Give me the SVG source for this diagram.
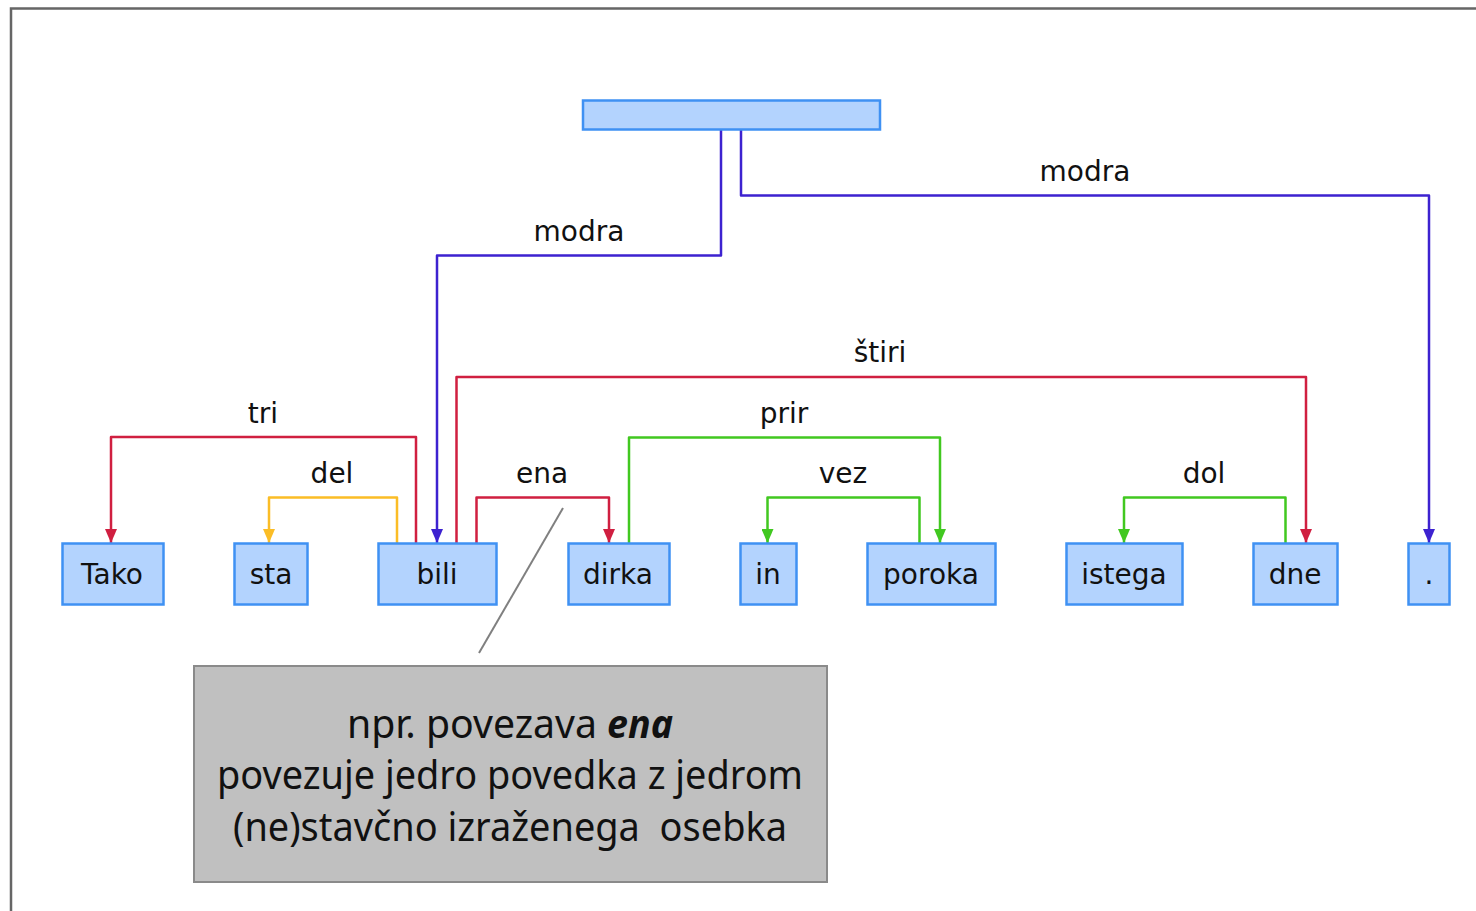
<svg xmlns="http://www.w3.org/2000/svg" width="1476" height="911" viewBox="0 0 1476 911">
  <defs>
    <marker id="ah-blue" viewBox="0 0 12 14" refX="6" refY="14" markerWidth="12" markerHeight="14" markerUnits="userSpaceOnUse">
      <path d="M0,0 L12,0 L6,14 Z" fill="#3d22d0"/>
    </marker>
    <marker id="ah-red" viewBox="0 0 12 14" refX="6" refY="14" markerWidth="12" markerHeight="14" markerUnits="userSpaceOnUse">
      <path d="M0,0 L12,0 L6,14 Z" fill="#d01f40"/>
    </marker>
    <marker id="ah-yellow" viewBox="0 0 12 14" refX="6" refY="14" markerWidth="12" markerHeight="14" markerUnits="userSpaceOnUse">
      <path d="M0,0 L12,0 L6,14 Z" fill="#fbbd26"/>
    </marker>
    <marker id="ah-green" viewBox="0 0 12 14" refX="6" refY="14" markerWidth="12" markerHeight="14" markerUnits="userSpaceOnUse">
      <path d="M0,0 L12,0 L6,14 Z" fill="#41c820"/>
    </marker>
  </defs>
  <style>
    .node { fill: #b3d3fe; stroke: #3f91f3; stroke-width: 2.5; }
    .word { font-family: "DejaVu Sans", Verdana, sans-serif; font-size: 28px; fill: #111; text-anchor: middle; }
    .lbl { font-family: "DejaVu Sans", Verdana, sans-serif; font-size: 28px; fill: #111; text-anchor: middle; }
    .edge { fill: none; stroke-width: 2.5; stroke-linejoin: round; }
    .blue { stroke: #3d22d0; }
    .red { stroke: #d01f40; }
    .yellow { stroke: #fbbd26; }
    .green { stroke: #41c820; }
    .note { font-family: "Noto Sans", "Open Sans", sans-serif; font-size: 40px; fill: #111; text-anchor: middle; }
    .note-start { text-anchor: start; }
    .em { font-weight: bold; font-style: italic; }
  </style>

  <rect width="1476" height="911" fill="#ffffff"/>
  <!-- outer frame -->
  <rect x="11" y="8.5" width="1500" height="940" fill="none" stroke="#666666" stroke-width="2.5"/>

  <!-- connectors -->
  <g id="connectors">
    <path class="edge blue" d="M721,130 V255.5 H437 V543" marker-end="url(#ah-blue)"/>
    <path class="edge blue" d="M741,130 V195.5 H1429 V543" marker-end="url(#ah-blue)"/>
    <path class="edge red" d="M416,543 V437 H111 V543" marker-end="url(#ah-red)"/>
    <path class="edge yellow" d="M397,543 V497.5 H269 V543" marker-end="url(#ah-yellow)"/>
    <path class="edge red" d="M456.5,543 V377 H1306 V543" marker-end="url(#ah-red)"/>
    <path class="edge red" d="M476.5,543 V497.5 H609 V543" marker-end="url(#ah-red)"/>
    <path class="edge green" d="M629,543 V437.5 H940 V543" marker-end="url(#ah-green)"/>
    <path class="edge green" d="M919.5,543 V497.5 H767.5 V543" marker-end="url(#ah-green)"/>
    <path class="edge green" d="M1285.5,543 V497.5 H1124 V543" marker-end="url(#ah-green)"/>
    <!-- callout pointer -->
    <line x1="563" y1="508" x2="479" y2="653" stroke="#808080" stroke-width="2"/>
  </g>

  <!-- edge labels -->
  <g id="labels">
    <text class="lbl" x="579" y="241">modra</text>
    <text class="lbl" x="1085" y="181">modra</text>
    <text class="lbl" x="880" y="362">štiri</text>
    <text class="lbl" x="263" y="423">tri</text>
    <text class="lbl" x="332" y="483">del</text>
    <text class="lbl" x="542" y="483">ena</text>
    <text class="lbl" x="784" y="423">prir</text>
    <text class="lbl" x="843" y="483">vez</text>
    <text class="lbl" x="1204" y="483">dol</text>
  </g>

  <!-- nodes -->
  <g id="root"><rect class="node" x="583" y="100.5" width="297" height="29"/></g>
  <g id="n-tako"><rect class="node" x="62.5" y="543.5" width="101" height="61"/><text class="word" x="112" y="584">Tako</text></g>
  <g id="n-sta"><rect class="node" x="234.5" y="543.5" width="73" height="61"/><text class="word" x="271" y="584">sta</text></g>
  <g id="n-bili"><rect class="node" x="378.5" y="543.5" width="118" height="61"/><text class="word" x="437" y="584">bili</text></g>
  <g id="n-dirka"><rect class="node" x="568.5" y="543.5" width="101" height="61"/><text class="word" x="618" y="584">dirka</text></g>
  <g id="n-in"><rect class="node" x="740.5" y="543.5" width="56" height="61"/><text class="word" x="768" y="584">in</text></g>
  <g id="n-poroka"><rect class="node" x="867.5" y="543.5" width="128" height="61"/><text class="word" x="931" y="584">poroka</text></g>
  <g id="n-istega"><rect class="node" x="1066.5" y="543.5" width="116" height="61"/><text class="word" x="1124" y="584">istega</text></g>
  <g id="n-dne"><rect class="node" x="1253.5" y="543.5" width="84" height="61"/><text class="word" x="1295" y="584">dne</text></g>
  <g id="n-dot"><rect class="node" x="1408.5" y="543.5" width="41" height="61"/><text class="word" x="1429" y="584">.</text></g>

  <!-- note box -->
  <g id="note">
    <rect x="194" y="666" width="633" height="216" fill="#c0c0c0" stroke="#8a8a8a" stroke-width="2"/>
    <text class="note note-start" x="347" y="738" textLength="250" lengthAdjust="spacingAndGlyphs">npr. povezava</text>
    <text class="note note-start em" x="607" y="738" textLength="66" lengthAdjust="spacingAndGlyphs">ena</text>
    <text class="note" x="510" y="789" textLength="586" lengthAdjust="spacingAndGlyphs">povezuje jedro povedka z jedrom</text>
    <text class="note" x="510" y="841" textLength="554" lengthAdjust="spacingAndGlyphs" xml:space="preserve">(ne)stavčno izraženega  osebka</text>
  </g>
</svg>
